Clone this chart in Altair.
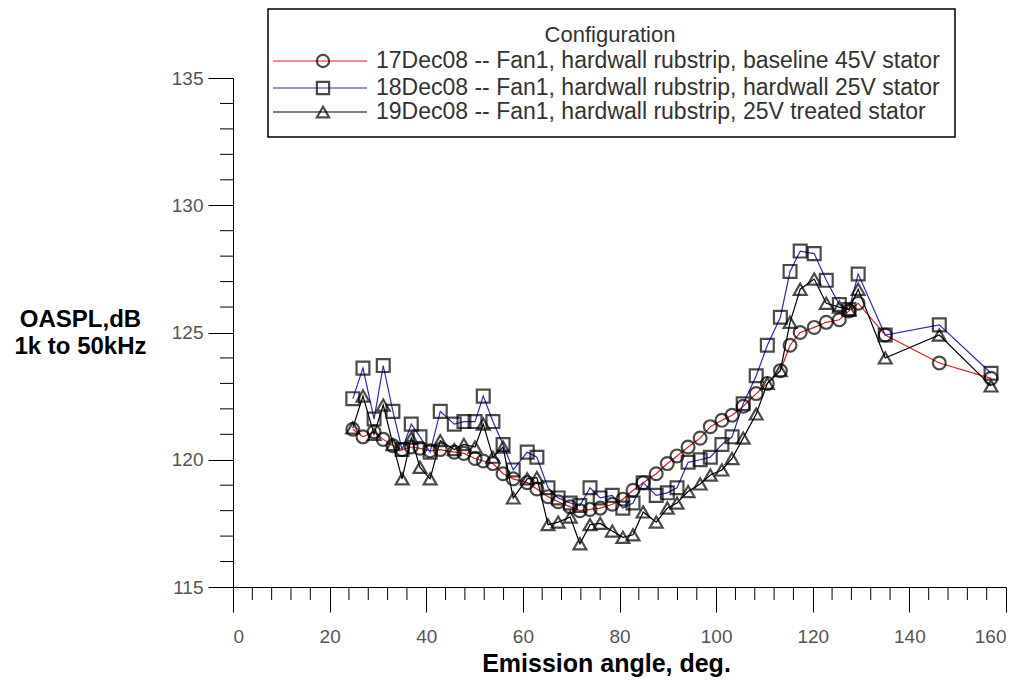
import altair as alt
import pandas as pd

# ---- data ----
angles = [24.8, 26.9, 29.2, 31.1, 33.1, 35.0, 36.9, 38.7, 40.8, 42.9, 45.8, 47.8, 50.1, 51.8, 53.8,
          55.9, 58.0, 60.9, 62.9, 65.2, 67.3, 69.8, 71.8, 73.9, 76.0, 78.5, 80.7, 82.8, 84.9, 87.6,
          89.9, 91.9, 94.2, 96.7, 98.8, 101.2, 103.3, 105.6, 108.3, 110.6, 113.3, 115.3, 117.4, 120.3,
          122.8, 125.5, 127.5, 129.4, 135.0, 146.2, 156.9]

baseline_45v = [121.2, 120.9, 121.1, 120.8, 120.55, 120.4, 120.5, 120.45, 120.35, 120.4, 120.3, 120.25,
                120.05, 119.95, 119.85, 119.45, 119.25, 119.1, 118.85, 118.55, 118.35, 118.15, 118.0,
                118.05, 118.1, 118.25, 118.45, 118.8, 119.1, 119.45, 119.85, 120.15, 120.5, 120.85,
                121.3, 121.55, 121.75, 122.1, 122.6, 123.0, 123.5, 124.5, 125.0, 125.2, 125.4, 125.5,
                125.85, 126.15, 124.9, 123.8, 123.2]

hardwall_25v = [122.4, 123.6, 121.6, 123.7, 121.9, 120.4, 121.4, 120.9, 120.3, 121.9, 121.4, 121.5,
                121.5, 122.5, 121.5, 120.6, 119.6, 120.3, 120.1, 118.9, 118.5, 118.3, 118.2, 118.9,
                118.5, 118.6, 118.1, 118.3, 119.1, 118.6, 118.7, 118.9, 119.9, 120.0, 120.1, 120.6,
                120.9, 122.2, 123.3, 124.5, 125.6, 127.4, 128.2, 128.1, 127.05, 126.1, 125.9, 127.3,
                124.9, 125.3, 123.4]

treated_25v = [121.25, 122.5, 121.0, 122.15, 120.6, 119.25, 120.85, 119.7, 119.25, 120.75, 120.4, 120.6,
               120.5, 121.4, 120.1, 120.5, 118.5, 119.25, 119.3, 117.45, 117.55, 117.75, 116.7, 117.45,
               117.5, 117.2, 116.95, 117.05, 117.95, 117.55, 118.1, 118.3, 118.75, 119.05, 119.4, 119.6,
               120.05, 120.85, 121.8, 123.0, 123.5, 125.4, 126.7, 127.1, 126.15, 126.0, 125.9, 126.7,
               124.0, 124.9, 122.9]

series_names = [
    "17Dec08 -- Fan1, hardwall rubstrip, baseline 45V stator",
    "18Dec08 -- Fan1, hardwall rubstrip, hardwall 25V stator",
    "19Dec08 -- Fan1, hardwall rubstrip, 25V treated stator",
]
series_values = [baseline_45v, hardwall_25v, treated_25v]
line_colors = ["#e41a1a", "#2c2cc0", "#000000"]
shapes = ["circle", "square", "triangle-up"]

x_major = list(range(0, 161, 20))
x_minor = [v for v in range(0, 161, 4) if v % 20 != 0]
y_major = [115, 120, 125, 130, 135]
y_minor = [v for v in range(115, 136) if v % 5 != 0]

rows = []
for name, vals in zip(series_names, series_values):
    for a, v in zip(angles, vals):
        rows.append({"series": name, "angle": a, "value": v})
df = pd.DataFrame(rows)

FONT = "Liberation Sans, Arial, sans-serif"

W, H = 773, 509

xenc = alt.X("angle:Q",
             scale=alt.Scale(domain=[0, 160], nice=False, zero=False),
             axis=alt.Axis(values=x_major, tickSize=25, tickColor="black", domainColor="black",
                           tickWidth=1, domainWidth=1, grid=False, format="d",
                           labelFont=FONT, labelFontSize=19, labelColor="#555555",
                           labelPadding=15, title="Emission angle, deg.",
                           titleFont=FONT, titleFontSize=25, titleFontWeight="bold",
                           titleColor="black", titlePadding=5, titleX=373, titleAlign="center"))
yenc = alt.Y("value:Q",
             scale=alt.Scale(domain=[115, 135], nice=False, zero=False),
             axis=alt.Axis(values=y_major, tickSize=25, tickColor="black", domainColor="black",
                           tickWidth=1, domainWidth=1, grid=False, format="d",
                           labelFont=FONT, labelFontSize=19, labelColor="#555555",
                           labelPadding=5,
                           title=["OASPL,dB", "1k to 50kHz"], titleAngle=0,
                           titleFont=FONT, titleFontSize=24, titleFontWeight="bold",
                           titleColor="black", titleAlign="center", titleBaseline="middle",
                           titleX=-153, titleY=241, titleLineHeight=27))

color_scale = alt.Scale(domain=series_names, range=line_colors)
shape_scale = alt.Scale(domain=series_names, range=shapes)

lines = alt.Chart(df).mark_line(strokeWidth=1.2).encode(
    x=xenc, y=yenc,
    color=alt.Color("series:N", scale=color_scale, legend=None),
    detail="series:N",
)
points = alt.Chart(df).mark_point(filled=False, size=165, strokeWidth=2.2, color="black").encode(
    x=xenc, y=yenc,
    shape=alt.Shape("series:N", scale=shape_scale, legend=None),
)

xminor_df = pd.DataFrame({"angle": x_minor})
xminor = alt.Chart(xminor_df).mark_rule(color="black", strokeWidth=1).encode(
    x=xenc, y=alt.value(H), y2=alt.value(H + 13))
yminor_df = pd.DataFrame({"value": y_minor})
yminor = alt.Chart(yminor_df).mark_rule(color="black", strokeWidth=1).encode(
    y=yenc, x=alt.value(-13), x2=alt.value(0))

# ---- legend box (layout only) ----
one = pd.DataFrame({"k": [0]})
legend_layers = [
    alt.Chart(one).mark_rect(fill="white", stroke="black", strokeWidth=1.5).encode(
        x=alt.value(35), x2=alt.value(722), y=alt.value(-69), y2=alt.value(59)),
    alt.Chart(one).mark_text(text="Configuration", font=FONT, fontSize=22, color="#333333",
                             align="center", baseline="middle").encode(
        x=alt.value(377), y=alt.value(-43)),
]
row_y = [-17, 10, 34]
for name, col, shp, ry in zip(series_names, line_colors, shapes, row_y):
    legend_layers.append(alt.Chart(one).mark_rule(color=col, strokeWidth=1.2).encode(
        x=alt.value(40), x2=alt.value(134), y=alt.value(ry)))
    legend_layers.append(alt.Chart(one).mark_point(filled=False, shape=shp, size=150, strokeWidth=2.2,
                                                   color="black").encode(
        x=alt.value(90), y=alt.value(ry)))
    legend_layers.append(alt.Chart(one).mark_text(text=name, font=FONT, fontSize=23,
                                                  color="#333333", align="left",
                                                  baseline="middle").encode(
        x=alt.value(143), y=alt.value(ry)))

chart = alt.layer(lines, points, xminor, yminor, *legend_layers).properties(
    width=W, height=H,
    autosize=alt.AutoSizeParams(type="none"),
    padding={"left": 225, "top": 70, "right": 10, "bottom": 90},
    background="white",
).configure_view(stroke=None)

chart.save("out.html", embed_options={"renderer": "svg", "actions": False})
